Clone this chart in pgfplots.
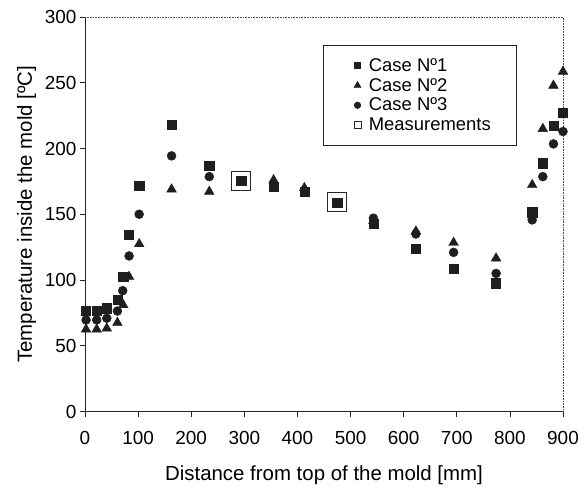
\documentclass[border=0pt]{standalone}
\usepackage{fontspec}
\setmainfont{Liberation Sans}
\usepackage{pgfplots}
\pgfplotsset{compat=1.18}

\begin{document}
\begin{tikzpicture}
\begin{axis}[
    name=ax,
    scale only axis,
    width=478bp, height=394.5bp,
    xmin=0, xmax=900,
    ymin=0, ymax=300,
    xtick={0,100,...,900},
    ytick={0,50,...,300},
    axis lines=left,
    axis line style={-, line width=0.8bp, black!85},
    tick pos=left,
    tick align=outside,
    major tick length=5bp,
    tick style={line width=0.7bp, black!85},
    clip=false,
    /pgf/number format/assume math mode=true,
    tick label style={font=\fontsize{19}{21}\selectfont},
    xticklabel style={yshift=-11bp},
    label style={font=\fontsize{20.5}{23}\selectfont},
    xlabel={Distance from top of the mold [mm]},
    ylabel={Temperature inside the mold [ºC]},
    xlabel style={yshift=-14bp},
    ylabel style={yshift=2bp},
    legend image code/.code={\draw[#1] plot coordinates {(0bp,0bp)};
                             \path (-10bp,0bp) (9bp,0bp);},
    legend cell align=left,
    legend style={at={(0.904,0.929)}, anchor=north east,
                  draw=black!85, line width=0.7bp,
                  font=\fontsize{18.5}{20}\selectfont,
                  inner xsep=24bp, inner ysep=11bp, row sep=1.5bp},
]
%-- measurement boxes (drawn first, case markers on top)
\addplot[forget plot, only marks, mark=square, mark size=9.5bp,
         mark options={line width=1bp, black!85}] coordinates {
    (294,175.3)(475,159)
};
%-- Case Nº1
\addplot[forget plot, only marks, mark=square*, mark size=4.6bp, black!88] coordinates {
    (2,76.4)(22,76.4)(41,78.5)(61,85.3)(72,102.5)(83,134.2)(102,171.5)
    (163,218)(234,187)(294,175.3)(355,171)(413,167)(475,159)(543,143)
    (623,124)(694,108.6)(774,97.5)(842,151.5)(862,188.8)(882,217.2)(900,227.3)
};
%-- Case Nº2
\addplot[forget plot, only marks, mark=triangle*, mark size=5.6bp, black!88] coordinates {
    (2,62.5)(22,62.5)(41,63.2)(61,67.5)(72,81)(83,102.5)(102,127.4)
    (163,169)(234,167.2)(355,176)(413,170)(543,145)
    (623,137)(694,128.4)(774,116.5)(842,172.3)(862,215)(882,247.9)(900,258.5)
};
%-- Case Nº3
\addplot[forget plot, only marks, mark=*, mark size=4.5bp, black!88] coordinates {
    (2,69.6)(22,69.6)(41,70.9)(61,76.4)(71,91.9)(83,118.3)(102,150)
    (163,194.4)(234,178.6)(355,173)(413,168)(543,147)
    (623,135)(694,121)(774,105)(842,145.7)(862,178.6)(882,203.5)(900,212.9)
};
\addlegendimage{only marks, mark=square*, mark size=3bp, black!88}
\addlegendentry{Case Nº1}
\addlegendimage{only marks, mark=triangle*, mark size=3.8bp, black!88}
\addlegendentry{Case Nº2}
\addlegendimage{only marks, mark=*, mark size=3.2bp, black!88}
\addlegendentry{Case Nº3}
\addlegendimage{only marks, mark=square, mark size=3.6bp, mark options={line width=0.8bp}, black!85}
\addlegendentry{Measurements}
%-- scanned frame: dotted top and right edges
\draw[densely dotted, line width=0.6bp, black!70]
    (rel axis cs:0,1) -- (rel axis cs:1,1) -- (rel axis cs:1,0);
\end{axis}
\path ([xshift=-85bp, yshift=-76.6bp]ax.south west)
      rectangle ([xshift=25bp, yshift=17bp]ax.north east);
\end{tikzpicture}
\end{document}
